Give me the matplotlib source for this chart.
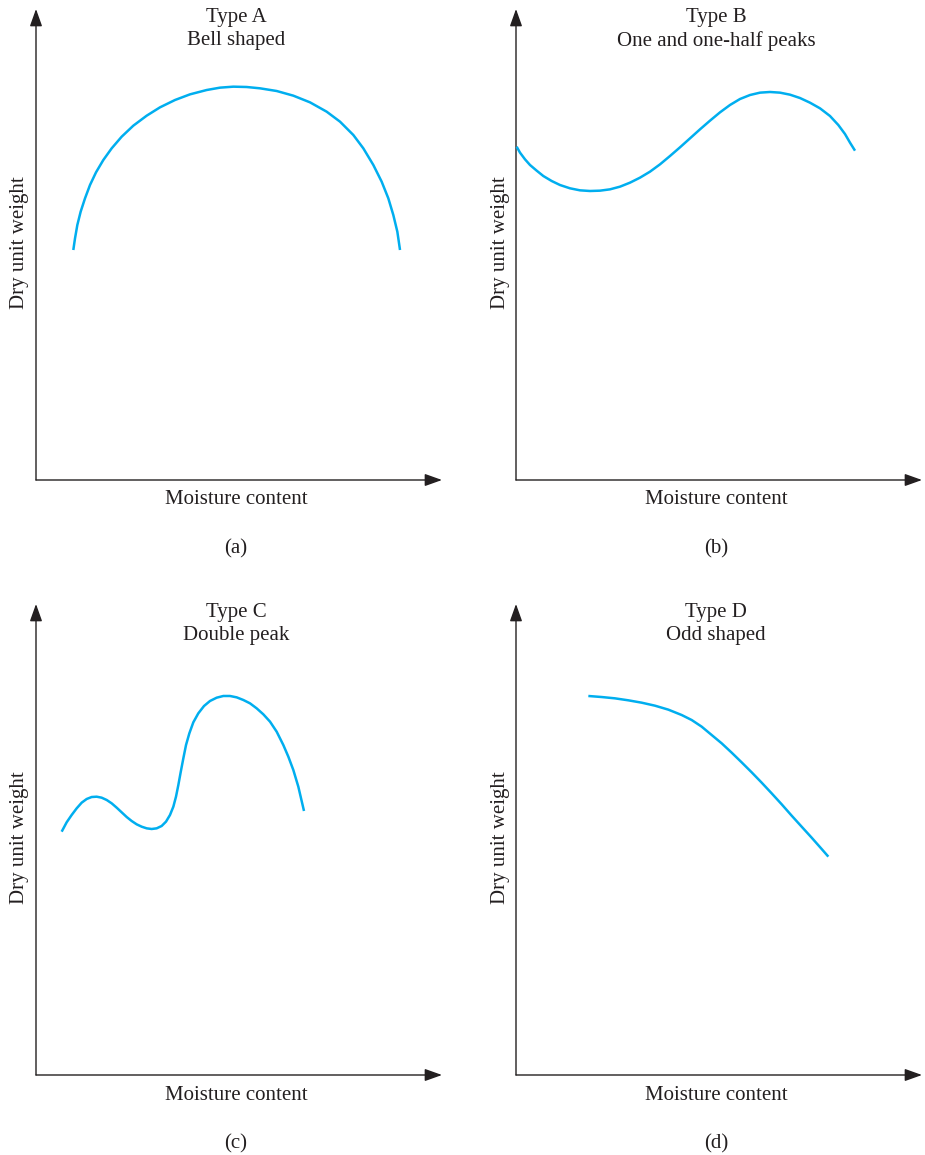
import matplotlib.pyplot as plt
from matplotlib.patches import FancyArrowPatch

plt.rcParams['font.family'] = ['Liberation Serif', 'DejaVu Serif']

# curve values, moisture (0-100) vs dry unit weight (0-100)
a_x = [9.19, 9.61, 10.18, 11.00, 12.07, 13.30, 14.78, 16.58, 18.64, 21.10, 23.97, 27.26, 30.54,
       34.24, 37.93, 42.04, 45.32, 48.60, 51.89, 55.17, 59.28, 63.38, 67.49, 71.59, 74.88, 78.16,
       80.62, 83.09, 85.14, 86.78, 88.01, 89.00, 89.66]
a_y = [48.83, 51.31, 54.14, 56.97, 59.80, 62.63, 65.32, 67.94, 70.42, 72.89, 75.23, 77.35, 79.12,
       80.68, 81.88, 82.80, 83.30, 83.51, 83.44, 83.16, 82.59, 81.60, 80.18, 78.20, 76.08, 73.25,
       70.42, 66.88, 63.34, 59.80, 56.26, 52.72, 48.83]

b_x = [0.16, 0.99, 2.22, 3.45, 5.09, 6.73, 8.79, 10.84, 13.30, 15.76, 18.23, 20.69, 23.15, 25.62,
       28.08, 30.54, 33.00, 35.47, 37.93, 40.39, 42.86, 45.32, 47.78, 50.25, 52.71, 55.17, 57.64,
       60.10, 62.56, 65.02, 67.49, 69.95, 72.41, 74.88, 77.34, 79.39, 81.03, 82.27, 83.50]
b_y = [70.77, 69.50, 68.08, 66.88, 65.68, 64.54, 63.48, 62.63, 61.93, 61.50, 61.36, 61.43, 61.71,
       62.28, 63.13, 64.19, 65.46, 67.02, 68.79, 70.63, 72.54, 74.45, 76.29, 78.06, 79.62, 80.89,
       81.74, 82.24, 82.38, 82.24, 81.81, 81.10, 80.11, 78.91, 77.28, 75.37, 73.46, 71.62, 69.92]

c_x = [6.32, 7.55, 8.78, 10.02, 11.25, 12.48, 13.71, 14.94, 16.17, 17.41, 18.64, 19.87, 21.10,
       22.33, 23.56, 24.80, 26.03, 27.26, 28.49, 29.72, 30.95, 32.02, 33.00, 33.83, 34.48, 35.06,
       35.63, 36.29, 36.95, 37.77, 38.75, 39.98, 41.38, 42.86, 44.50, 46.14, 47.78, 49.43, 51.07,
       52.71, 54.35, 55.99, 57.64, 59.28, 60.92, 62.15, 63.38, 64.61, 66.01]
c_y = [51.66, 53.65, 55.20, 56.62, 57.82, 58.60, 59.02, 59.09, 58.88, 58.39, 57.68, 56.76, 55.77,
       54.78, 53.93, 53.22, 52.72, 52.37, 52.23, 52.37, 52.87, 53.79, 55.20, 56.97, 59.09, 61.57,
       64.26, 67.23, 70.06, 72.54, 74.88, 76.79, 78.34, 79.41, 80.11, 80.47, 80.47, 80.18, 79.62,
       78.91, 77.85, 76.58, 75.02, 72.89, 70.06, 67.59, 64.76, 61.22, 56.05]

d_x = [17.82, 21.10, 24.38, 27.67, 30.95, 34.24, 37.52, 40.81, 43.27, 45.73, 48.19, 50.66, 53.12,
       55.58, 58.05, 60.51, 62.97, 65.44, 67.90, 70.36, 72.82, 75.29, 76.93]
d_y = [80.47, 80.25, 79.97, 79.55, 79.05, 78.41, 77.57, 76.43, 75.37, 73.96, 72.19, 70.42, 68.44,
       66.38, 64.26, 62.07, 59.80, 57.47, 55.06, 52.72, 50.39, 47.98, 46.36]

titles = ['Type A\nBell shaped', 'Type B\nOne and one-half peaks',
          'Type C\nDouble peak', 'Type D\nOdd shaped']
tags = ['(a)', '(b)', '(c)', '(d)']
curves = [(a_x, a_y), (b_x, b_y), (c_x, c_y), (d_x, d_y)]

W, H = 925, 1155
fig = plt.figure(figsize=(W / 100, H / 100), dpi=100)

# origin of each panel in pixels
origins = [(36, 480), (516, 480), (36, 1075), (516, 1075)]
aw, ah = 406, 471
blue = '#00AEEF'
ink = '#231f20'
fs = 15

for i in range(4):
    x0, y0 = origins[i]
    ax = fig.add_axes([x0 / W, (H - y0) / H, aw / W, ah / H])
    ax.set_xlim(0, 100)
    ax.set_ylim(0, 100)
    ax.axis('off')
    cx, cy = curves[i]
    ax.plot(cx, cy, color=blue, lw=1.8, solid_capstyle='butt',
            solid_joinstyle='round', clip_on=False)

    # axes arrows
    for end in [(1, 0), (0, 1)]:
        arr = FancyArrowPatch((0, 0), end, transform=ax.transAxes,
                              arrowstyle='-|>,head_length=0.7,head_width=0.25',
                              mutation_scale=15, color=ink, lw=1.0,
                              shrinkA=0, shrinkB=0, clip_on=False)
        ax.add_patch(arr)

    xc = x0 + 200
    fig.text(xc / W, 1 - (y0 - 472) / H, titles[i], ha='center', va='top',
             fontsize=fs, linespacing=1.27, color=ink)
    fig.text(xc / W, 1 - (y0 + 20) / H, 'Moisture content', ha='center', va='center',
             fontsize=fs, color=ink)
    fig.text(xc / W, 1 - (y0 + 69) / H, tags[i], ha='center', va='center', fontsize=fs, color=ink)
    fig.text((x0 - 16) / W, 1 - (y0 - 237) / H, 'Dry unit weight', ha='center', va='center',
             rotation=90, fontsize=fs, color=ink)

fig.savefig('out.png', dpi=100)
